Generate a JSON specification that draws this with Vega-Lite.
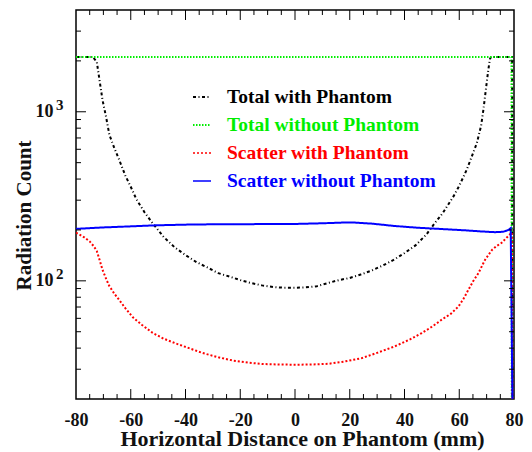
{
  "$schema": "https://vega.github.io/schema/vega-lite/v6.json",
  "autosize": {"type": "none"},
  "width": 438,
  "height": 389,
  "padding": {"left": 76, "top": 10, "right": 18, "bottom": 53},
  "background": "white",
  "config": {
    "view": {"stroke": "#000", "strokeWidth": 1.5},
    "axis": {"grid": false, "domain": false, "labelColor": "#111", "labelFont": "Liberation Serif", "labelFontWeight": "bold", "titleFont": "Liberation Serif", "titleFontWeight": "bold", "titleColor": "#111", "zindex": 1}
  },
  "datasets": {
    "curves": [
      {"s": "Total with Phantom", "x": -80, "y": 2110},
      {"s": "Total with Phantom", "x": -74, "y": 2110},
      {"s": "Total with Phantom", "x": -73.2, "y": 2050},
      {"s": "Total with Phantom", "x": -72.4, "y": 1974},
      {"s": "Total with Phantom", "x": -71.2, "y": 1460},
      {"s": "Total with Phantom", "x": -70.3, "y": 1170},
      {"s": "Total with Phantom", "x": -69, "y": 930},
      {"s": "Total with Phantom", "x": -67.8, "y": 730},
      {"s": "Total with Phantom", "x": -66, "y": 610},
      {"s": "Total with Phantom", "x": -64.2, "y": 519},
      {"s": "Total with Phantom", "x": -62, "y": 420},
      {"s": "Total with Phantom", "x": -60, "y": 360},
      {"s": "Total with Phantom", "x": -58, "y": 305},
      {"s": "Total with Phantom", "x": -55, "y": 255},
      {"s": "Total with Phantom", "x": -52, "y": 219},
      {"s": "Total with Phantom", "x": -48, "y": 182},
      {"s": "Total with Phantom", "x": -44, "y": 158},
      {"s": "Total with Phantom", "x": -40, "y": 142},
      {"s": "Total with Phantom", "x": -36, "y": 129},
      {"s": "Total with Phantom", "x": -32, "y": 120},
      {"s": "Total with Phantom", "x": -28, "y": 111},
      {"s": "Total with Phantom", "x": -24, "y": 106},
      {"s": "Total with Phantom", "x": -20, "y": 101},
      {"s": "Total with Phantom", "x": -16, "y": 97},
      {"s": "Total with Phantom", "x": -12, "y": 94},
      {"s": "Total with Phantom", "x": -8, "y": 92},
      {"s": "Total with Phantom", "x": -4, "y": 91},
      {"s": "Total with Phantom", "x": 0, "y": 91},
      {"s": "Total with Phantom", "x": 4, "y": 91.5},
      {"s": "Total with Phantom", "x": 8, "y": 93},
      {"s": "Total with Phantom", "x": 12, "y": 97},
      {"s": "Total with Phantom", "x": 16, "y": 101},
      {"s": "Total with Phantom", "x": 20, "y": 104},
      {"s": "Total with Phantom", "x": 24, "y": 109},
      {"s": "Total with Phantom", "x": 28, "y": 115},
      {"s": "Total with Phantom", "x": 32, "y": 123},
      {"s": "Total with Phantom", "x": 36, "y": 133},
      {"s": "Total with Phantom", "x": 40, "y": 146},
      {"s": "Total with Phantom", "x": 44, "y": 162},
      {"s": "Total with Phantom", "x": 48, "y": 188},
      {"s": "Total with Phantom", "x": 51, "y": 219},
      {"s": "Total with Phantom", "x": 54, "y": 252},
      {"s": "Total with Phantom", "x": 58, "y": 318},
      {"s": "Total with Phantom", "x": 60, "y": 365},
      {"s": "Total with Phantom", "x": 62.7, "y": 453},
      {"s": "Total with Phantom", "x": 64.5, "y": 540},
      {"s": "Total with Phantom", "x": 66.4, "y": 650},
      {"s": "Total with Phantom", "x": 68, "y": 830},
      {"s": "Total with Phantom", "x": 68.8, "y": 1023},
      {"s": "Total with Phantom", "x": 70, "y": 1472},
      {"s": "Total with Phantom", "x": 70.6, "y": 1763},
      {"s": "Total with Phantom", "x": 71.2, "y": 2050},
      {"s": "Total with Phantom", "x": 71.6, "y": 2110},
      {"s": "Total with Phantom", "x": 79.3, "y": 2110},
      {"s": "Total with Phantom", "x": 79.4, "y": 15},
      {"s": "Total without Phantom", "x": -80, "y": 2110},
      {"s": "Total without Phantom", "x": 79.1, "y": 2110},
      {"s": "Total without Phantom", "x": 79.2, "y": 15},
      {"s": "Scatter with Phantom", "x": -80, "y": 193},
      {"s": "Scatter with Phantom", "x": -78.5, "y": 187},
      {"s": "Scatter with Phantom", "x": -77, "y": 181},
      {"s": "Scatter with Phantom", "x": -75, "y": 171},
      {"s": "Scatter with Phantom", "x": -73.5, "y": 160},
      {"s": "Scatter with Phantom", "x": -72.4, "y": 150},
      {"s": "Scatter with Phantom", "x": -71.2, "y": 130},
      {"s": "Scatter with Phantom", "x": -70.3, "y": 116},
      {"s": "Scatter with Phantom", "x": -68.8, "y": 101},
      {"s": "Scatter with Phantom", "x": -67.8, "y": 93},
      {"s": "Scatter with Phantom", "x": -66, "y": 84},
      {"s": "Scatter with Phantom", "x": -64.2, "y": 77},
      {"s": "Scatter with Phantom", "x": -62, "y": 69},
      {"s": "Scatter with Phantom", "x": -59.3, "y": 61},
      {"s": "Scatter with Phantom", "x": -56, "y": 55},
      {"s": "Scatter with Phantom", "x": -52, "y": 49.2},
      {"s": "Scatter with Phantom", "x": -48, "y": 45.5},
      {"s": "Scatter with Phantom", "x": -43.5, "y": 42.6},
      {"s": "Scatter with Phantom", "x": -38, "y": 39.6},
      {"s": "Scatter with Phantom", "x": -33.7, "y": 37.4},
      {"s": "Scatter with Phantom", "x": -28, "y": 35.3},
      {"s": "Scatter with Phantom", "x": -22.8, "y": 33.8},
      {"s": "Scatter with Phantom", "x": -17, "y": 32.8},
      {"s": "Scatter with Phantom", "x": -11.8, "y": 32.2},
      {"s": "Scatter with Phantom", "x": -6, "y": 32},
      {"s": "Scatter with Phantom", "x": 0, "y": 31.9},
      {"s": "Scatter with Phantom", "x": 6, "y": 32},
      {"s": "Scatter with Phantom", "x": 12.2, "y": 32.3},
      {"s": "Scatter with Phantom", "x": 18, "y": 33.3},
      {"s": "Scatter with Phantom", "x": 24.4, "y": 34.9},
      {"s": "Scatter with Phantom", "x": 30, "y": 37.5},
      {"s": "Scatter with Phantom", "x": 36.5, "y": 41},
      {"s": "Scatter with Phantom", "x": 42, "y": 45},
      {"s": "Scatter with Phantom", "x": 46.3, "y": 49.1},
      {"s": "Scatter with Phantom", "x": 50, "y": 53.5},
      {"s": "Scatter with Phantom", "x": 53.6, "y": 58.9},
      {"s": "Scatter with Phantom", "x": 57, "y": 64},
      {"s": "Scatter with Phantom", "x": 59.7, "y": 70.5},
      {"s": "Scatter with Phantom", "x": 61.5, "y": 78},
      {"s": "Scatter with Phantom", "x": 63.3, "y": 88.4},
      {"s": "Scatter with Phantom", "x": 65, "y": 99},
      {"s": "Scatter with Phantom", "x": 67, "y": 111},
      {"s": "Scatter with Phantom", "x": 69.4, "y": 133},
      {"s": "Scatter with Phantom", "x": 71.9, "y": 152},
      {"s": "Scatter with Phantom", "x": 73.5, "y": 160},
      {"s": "Scatter with Phantom", "x": 75.5, "y": 168},
      {"s": "Scatter with Phantom", "x": 77.9, "y": 184},
      {"s": "Scatter with Phantom", "x": 79.2, "y": 193},
      {"s": "Scatter with Phantom", "x": 79.4, "y": 15},
      {"s": "Scatter without Phantom", "x": -80, "y": 203},
      {"s": "Scatter without Phantom", "x": -75, "y": 205},
      {"s": "Scatter without Phantom", "x": -70, "y": 207},
      {"s": "Scatter without Phantom", "x": -60, "y": 210},
      {"s": "Scatter without Phantom", "x": -51, "y": 213},
      {"s": "Scatter without Phantom", "x": -40, "y": 215},
      {"s": "Scatter without Phantom", "x": -30, "y": 216},
      {"s": "Scatter without Phantom", "x": -20, "y": 216},
      {"s": "Scatter without Phantom", "x": -10, "y": 217},
      {"s": "Scatter without Phantom", "x": 0, "y": 217},
      {"s": "Scatter without Phantom", "x": 10, "y": 219},
      {"s": "Scatter without Phantom", "x": 17, "y": 221},
      {"s": "Scatter without Phantom", "x": 22, "y": 221},
      {"s": "Scatter without Phantom", "x": 28, "y": 218},
      {"s": "Scatter without Phantom", "x": 36.5, "y": 211},
      {"s": "Scatter without Phantom", "x": 45, "y": 206},
      {"s": "Scatter without Phantom", "x": 54.8, "y": 202},
      {"s": "Scatter without Phantom", "x": 62, "y": 199},
      {"s": "Scatter without Phantom", "x": 68, "y": 196},
      {"s": "Scatter without Phantom", "x": 73, "y": 194},
      {"s": "Scatter without Phantom", "x": 76, "y": 195},
      {"s": "Scatter without Phantom", "x": 78, "y": 200},
      {"s": "Scatter without Phantom", "x": 78.8, "y": 205},
      {"s": "Scatter without Phantom", "x": 79.5, "y": 15}
    ],
    "xmajor": [{"v": -60}, {"v": -40}, {"v": -20}, {"v": 0}, {"v": 20}, {"v": 40}, {"v": 60}],
    "xminor": [
      {"v": -75}, {"v": -70}, {"v": -65}, {"v": -55}, {"v": -50}, {"v": -45}, {"v": -35}, {"v": -30},
      {"v": -25}, {"v": -15}, {"v": -10}, {"v": -5}, {"v": 5}, {"v": 10}, {"v": 15}, {"v": 25},
      {"v": 30}, {"v": 35}, {"v": 45}, {"v": 50}, {"v": 55}, {"v": 65}, {"v": 70}, {"v": 75}
    ],
    "ymajor": [{"v": 100}, {"v": 1000}],
    "yminor": [
      {"v": 30}, {"v": 40}, {"v": 50}, {"v": 60}, {"v": 70}, {"v": 80}, {"v": 90},
      {"v": 200}, {"v": 300}, {"v": 400}, {"v": 500}, {"v": 600}, {"v": 700}, {"v": 800}, {"v": 900},
      {"v": 2000}, {"v": 3000}
    ]
  },
  "data": {"name": "curves"},
  "resolve": {"axis": {"x": "independent", "y": "independent"}},
  "layer": [
    {
      "mark": {"type": "line", "clip": true, "strokeWidth": 2},
      "encoding": {
        "x": {"field": "x", "type": "quantitative", "scale": {"domain": [-80, 80], "nice": false, "zero": false},
          "axis": {"orient": "bottom", "values": [-80, -60, -40, -20, 0, 20, 40, 60, 80], "labelExpr": "(datum.value < 0 ? '-' : '') + abs(datum.value)", "tickSize": 0, "labelFontSize": 18, "labelPadding": 12, "labelFlush": false, "labelOverlap": false,
            "title": "Horizontal Distance on Phantom (mm)", "titleFontSize": 22, "titleX": 226, "titleY": 39, "titleAlign": "center", "titleBaseline": "middle"}},
        "y": {"field": "y", "type": "quantitative", "scale": {"type": "log", "domain": [20, 4000], "nice": false},
          "axis": {"orient": "left", "values": [100, 1000], "labelExpr": "'10'", "tickSize": 0, "labelFontSize": 18, "labelPadding": 23, "labelAlign": "right",
            "title": "Radiation Count", "titleFontSize": 21, "titleAngle": -90, "titleX": -52, "titleY": 205, "titleAlign": "center", "titleBaseline": "middle"}},
        "color": {"field": "s", "type": "nominal",
          "scale": {"domain": ["Total with Phantom", "Total without Phantom", "Scatter with Phantom", "Scatter without Phantom"], "range": ["#000000", "#00ee00", "#ff0000", "#0000ff"]},
          "legend": {"orient": "none", "legendX": 116, "legendY": 77, "title": null, "padding": 0, "symbolType": "stroke", "symbolSize": 324, "symbolStrokeWidth": 2,
            "labelFont": "Liberation Serif", "labelFontWeight": "bold", "labelFontSize": 19.5, "labelLimit": 0, "labelOffset": 15, "rowPadding": 8,
            "encode": {"labels": {"update": {"fill": {"scale": "color", "field": "value"}}}}}},
        "strokeDash": {"field": "s", "type": "nominal",
          "scale": {"domain": ["Total with Phantom", "Total without Phantom", "Scatter with Phantom", "Scatter without Phantom"], "range": [[3, 2.5, 1, 2.5], [1.5, 1.5], [2, 2], [1, 0]]}},
        "strokeWidth": {"field": "s", "type": "nominal",
          "scale": {"domain": ["Total with Phantom", "Total without Phantom", "Scatter with Phantom", "Scatter without Phantom"], "range": [2, 1.5, 2.5, 2]}, "legend": null}
      }
    },
    {
      "mark": {"type": "line", "strokeOpacity": 0},
      "encoding": {
        "x": {"field": "x", "type": "quantitative", "axis": null},
        "y": {"field": "y", "type": "quantitative",
          "axis": {"orient": "left", "values": [100, 1000], "labelExpr": "datum.value == 100 ? '2' : '3'", "tickSize": 0, "labelFontSize": 15, "labelPadding": 13, "labelAlign": "right", "labelOffset": -7, "title": null}}
      }
    },
    {
      "data": {"name": "xmajor"},
      "mark": {"type": "rule", "color": "#000", "strokeWidth": 1},
      "encoding": {
        "x": {"field": "v", "type": "quantitative", "axis": null},
        "y": {"datum": 20, "type": "quantitative", "axis": null},
        "y2": {"datum": 22.9}
      }
    },
    {
      "data": {"name": "xminor"},
      "mark": {"type": "rule", "color": "#000", "strokeWidth": 1},
      "encoding": {
        "x": {"field": "v", "type": "quantitative", "axis": null},
        "y": {"datum": 20, "type": "quantitative", "axis": null},
        "y2": {"datum": 21.4}
      }
    },
    {
      "data": {"name": "xmajor"},
      "mark": {"type": "rule", "color": "#000", "strokeWidth": 1},
      "encoding": {
        "x": {"field": "v", "type": "quantitative", "axis": null},
        "y": {"datum": 4000, "type": "quantitative", "axis": null},
        "y2": {"datum": 3491}
      }
    },
    {
      "data": {"name": "xminor"},
      "mark": {"type": "rule", "color": "#000", "strokeWidth": 1},
      "encoding": {
        "x": {"field": "v", "type": "quantitative", "axis": null},
        "y": {"datum": 4000, "type": "quantitative", "axis": null},
        "y2": {"datum": 3737}
      }
    },
    {
      "data": {"name": "ymajor"},
      "mark": {"type": "rule", "color": "#000", "strokeWidth": 1},
      "encoding": {
        "y": {"field": "v", "type": "quantitative", "axis": null},
        "x": {"datum": -80, "type": "quantitative", "axis": null},
        "x2": {"datum": -76.35}
      }
    },
    {
      "data": {"name": "yminor"},
      "mark": {"type": "rule", "color": "#000", "strokeWidth": 1},
      "encoding": {
        "y": {"field": "v", "type": "quantitative", "axis": null},
        "x": {"datum": -80, "type": "quantitative", "axis": null},
        "x2": {"datum": -78.17}
      }
    },
    {
      "data": {"name": "ymajor"},
      "mark": {"type": "rule", "color": "#000", "strokeWidth": 1},
      "encoding": {
        "y": {"field": "v", "type": "quantitative", "axis": null},
        "x": {"datum": 80, "type": "quantitative", "axis": null},
        "x2": {"datum": 76.35}
      }
    },
    {
      "data": {"name": "yminor"},
      "mark": {"type": "rule", "color": "#000", "strokeWidth": 1},
      "encoding": {
        "y": {"field": "v", "type": "quantitative", "axis": null},
        "x": {"datum": 80, "type": "quantitative", "axis": null},
        "x2": {"datum": 78.17}
      }
    }
  ]
}
